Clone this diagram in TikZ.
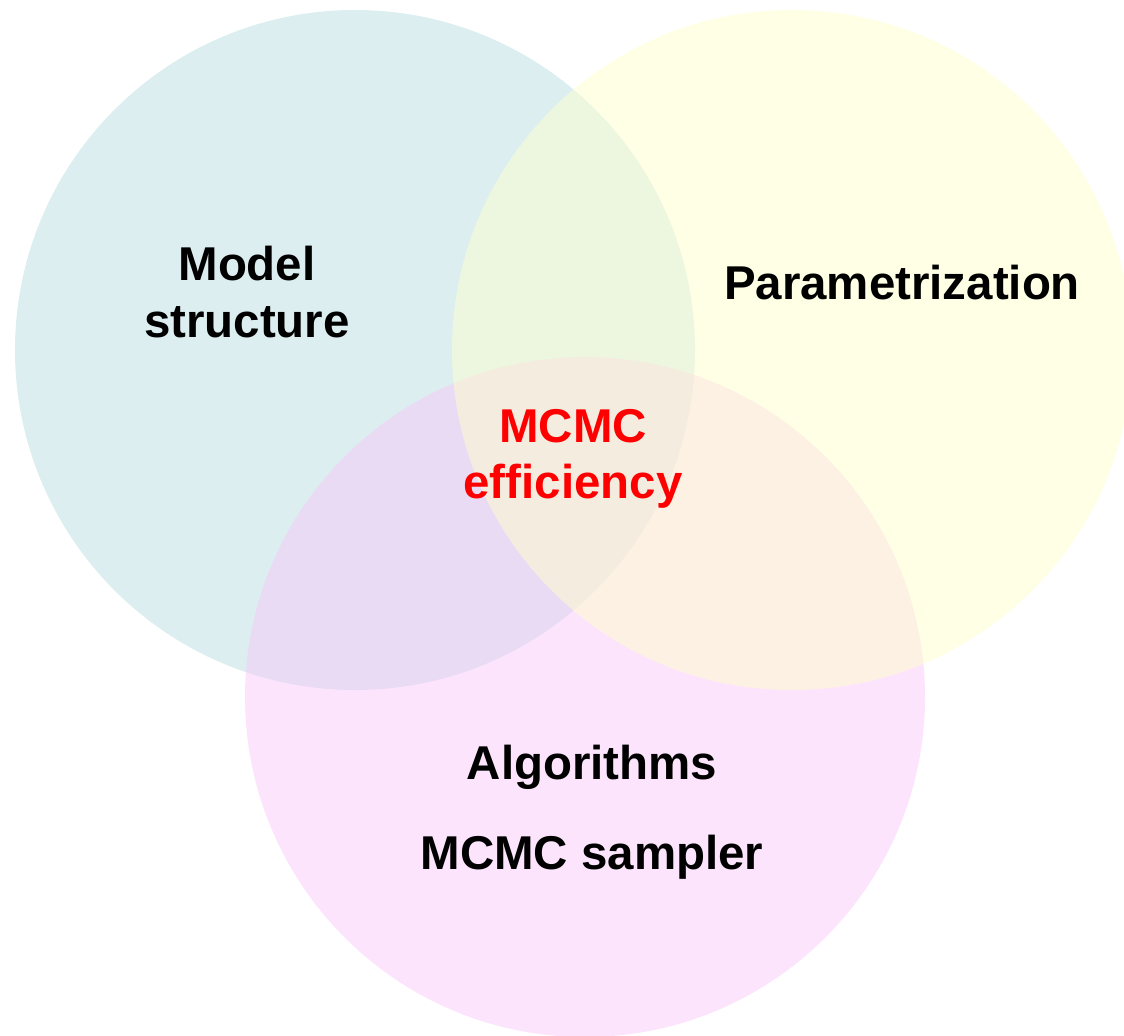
\documentclass[tikz,border=0pt]{standalone}
\usepackage{fontspec}
\setmainfont{Liberation Sans}
\usetikzlibrary{positioning}
\definecolor{structblue}{RGB}{185, 221, 225}
\definecolor{paramyellow}{RGB}{255, 255, 204}
\definecolor{algopink}{RGB}{249, 201, 249}
\definecolor{textdark}{RGB}{0, 0, 0}
\definecolor{accentred}{RGB}{255, 0, 0}

\begin{document}
\begin{tikzpicture}[
    setcircle/.style={circle, inner sep=0pt, fill opacity=0.5, draw=none, minimum size=6.8cm},
    label/.style={font=\fontsize{13.5}{16}\selectfont\bfseries, align=center, color=textdark}
]
\useasboundingbox (0, 0) rectangle (11.24, 10.35);

% Circles (yellow last, on top)
\node[setcircle, fill=structblue] (structure) at (3.55, 6.85) {};
\node[setcircle, fill=algopink] (algo) at (5.85, 3.38) {};
\node[setcircle, fill=paramyellow] (param) at (7.92, 6.85) {};

% Labels
\node[label] (structtext) at (2.47, 7.43) {Model\\structure};
\node[label] (paramtext) at (9.02, 7.52) {Parametrization};
\node[label, color=accentred] (efftext) at (5.73, 5.76) {MCMC\\efficiency};
\node[label] (algotext) at (5.92, 2.68) {Algorithms};
\node[label, below=0.9cm of algotext.center, anchor=center] (samplertext) {MCMC sampler};

\end{tikzpicture}
\end{document}
